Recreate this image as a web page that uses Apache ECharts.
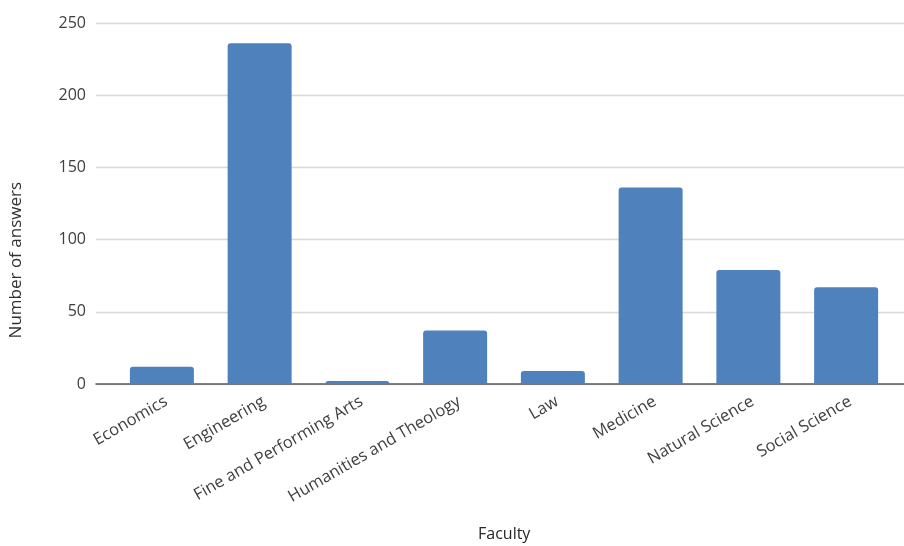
<!DOCTYPE html>
<html>
<head>
<meta charset="utf-8">
<script src="https://cdn.jsdelivr.net/npm/echarts@6/dist/echarts.min.js"></script>
<style>
  html, body { margin: 0; padding: 0; background: #fff; }
  #chart { width: 904px; height: 546px; }
</style>
</head>
<body>
<div id="chart"></div>
<script>
// Survey answers per faculty
const faculties = ['Economics', 'Engineering', 'Fine and Performing Arts', 'Humanities and Theology', 'Law', 'Medicine', 'Natural Science', 'Social Science'];
const answers = [12, 236, 2, 37, 9, 136, 79, 67];
const yTicks = { min: 0, max: 250, interval: 50 };

const FONT = '"Open Sans", sans-serif';
const chart = echarts.init(document.getElementById('chart'));

chart.setOption({
  animation: false,
  backgroundColor: '#ffffff',
  grid: [
    // bars
    { left: 113, right: 9, top: 23, bottom: 162 },
    // gridlines and value labels span the wider area
    { left: 96, right: 0, top: 23, bottom: 162 }
  ],
  xAxis: [
    {
      type: 'category', gridIndex: 0, data: faculties,
      axisLine: { show: false }, axisTick: { show: false },
      axisLabel: {
        rotate: 30, interval: 0, margin: 9, align: 'right', verticalAlign: 'top',
        color: '#404040', fontFamily: FONT, fontSize: 16.5
      }
    },
    {
      type: 'value', gridIndex: 1, min: 0, max: 1, show: true,
      axisLine: { show: true, onZero: false, lineStyle: { color: '#5a5a5a', width: 1.5 } },
      axisTick: { show: false }, axisLabel: { show: false }, splitLine: { show: false }
    }
  ],
  yAxis: [
    {
      type: 'value', gridIndex: 0, min: yTicks.min, max: yTicks.max, interval: yTicks.interval,
      show: false, splitLine: { show: false }
    },
    {
      type: 'value', gridIndex: 1, min: yTicks.min, max: yTicks.max, interval: yTicks.interval,
      axisLine: { show: false }, axisTick: { show: false },
      axisLabel: { color: '#404040', fontFamily: FONT, fontSize: 16, margin: 10 },
      splitLine: { lineStyle: { color: '#d9d9d9', width: 1.3 } }
    }
  ],
  graphic: [
    {
      type: 'text', left: 8, top: 182, rotation: Math.PI / 2,
      style: { text: 'Number of answers', fill: '#303030', font: '17px ' + FONT }
    },
    {
      type: 'text', left: 478, top: 526,
      style: { text: 'Faculty', fill: '#262626', font: '16px ' + FONT }
    }
  ],
  series: [{
    type: 'bar', xAxisIndex: 0, yAxisIndex: 0,
    data: answers,
    barWidth: 64,
    itemStyle: { color: '#4f81bd', borderRadius: [3, 3, 0, 0] },
    z: 3
  }]
});
</script>
</body>
</html>
